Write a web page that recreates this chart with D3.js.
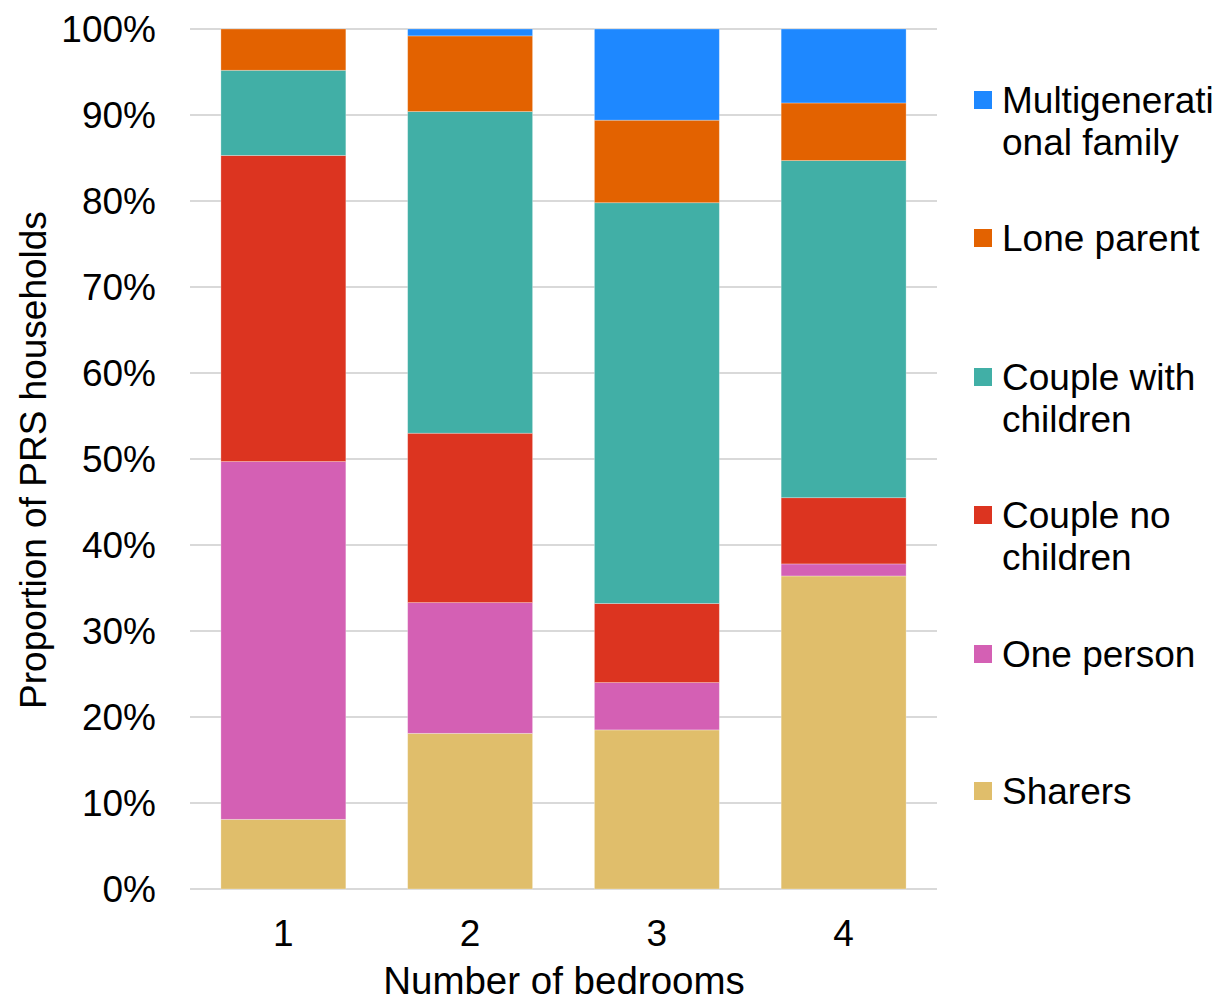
<!DOCTYPE html>
<html>
<head>
<meta charset="utf-8">
<script src="https://cdn.jsdelivr.net/npm/d3@7"></script>
<style>
  html, body { margin: 0; padding: 0; background: #fff; }
  svg { display: block; font-family: "Liberation Sans", Arial, sans-serif; }
</style>
</head>
<body>
<svg id="chart" width="1223" height="1001"></svg>
<script>
// Household type shares (%) of private rented sector homes by number of bedrooms
const bedrooms = ["1", "2", "3", "4"];
const seriesNames = ["Sharers", "One person", "Couple no children", "Couple with children", "Lone parent", "Multigenerational family"];
const sharers          = [8.1, 18.1, 18.5, 36.4];
const onePerson        = [41.6, 15.2, 5.5, 1.4];
const coupleNoChildren = [35.6, 19.7, 9.2, 7.7];
const coupleChildren   = [9.9, 37.4, 46.6, 39.2];
const loneParent       = [4.8, 8.8, 9.6, 6.7];
const multigen         = [0.0, 0.8, 10.6, 8.6];
const seriesColors = ["#E0BE6B", "#D460B4", "#DC3420", "#41AFA6", "#E36200", "#1E88FF"];
// Legend entries, top to bottom, with their text lines
const legendLines = [
  ["Multigenerati", "onal family"],
  ["Lone parent"],
  ["Couple with", "children"],
  ["Couple no", "children"],
  ["One person"],
  ["Sharers"]
];
const yTicks = [0, 10, 20, 30, 40, 50, 60, 70, 80, 90, 100];

const seriesValues = [sharers, onePerson, coupleNoChildren, coupleChildren, loneParent, multigen];
const rows = bedrooms.map((b, i) => {
  const r = { bedrooms: b };
  seriesNames.forEach((s, k) => { r[s] = seriesValues[k][i]; });
  return r;
});

const svg = d3.select("#chart");
const plotLeft = 190, plotRight = 937, plotTop = 29, plotBottom = 889;
const fontSize = 37;

const x = d3.scaleBand().domain(bedrooms).range([plotLeft, plotRight]).paddingInner(0.331).paddingOuter(0.1655);
const y = d3.scaleLinear().domain([0, 100]).range([plotBottom, plotTop]);
const color = d3.scaleOrdinal().domain(seriesNames).range(seriesColors);

// Gridlines
svg.append("g")
  .selectAll("line")
  .data(yTicks)
  .join("line")
  .attr("x1", plotLeft).attr("x2", plotRight)
  .attr("y1", d => y(d)).attr("y2", d => y(d))
  .attr("stroke", "#d9d9d9").attr("stroke-width", 2);

// Y tick labels
svg.append("g")
  .selectAll("text")
  .data(yTicks)
  .join("text")
  .attr("x", 156).attr("y", d => y(d))
  .attr("dy", "0.35em")
  .attr("text-anchor", "end")
  .attr("font-size", fontSize)
  .attr("fill", "#000")
  .text(d => d + "%");

// Stacked bars
const stacked = d3.stack().keys(seriesNames)(rows);
svg.append("g")
  .selectAll("g")
  .data(stacked)
  .join("g")
  .attr("fill", d => color(d.key))
  .selectAll("rect")
  .data(d => d)
  .join("rect")
  .attr("x", d => x(d.data.bedrooms))
  .attr("width", x.bandwidth())
  .attr("y", d => y(d[1]))
  .attr("height", d => Math.max(0, y(d[0]) - y(d[1])))
  .attr("stroke", "#ffffff").attr("stroke-opacity", 0.35).attr("stroke-width", 0.8);

// X tick labels
svg.append("g")
  .selectAll("text")
  .data(bedrooms)
  .join("text")
  .attr("x", d => x(d) + x.bandwidth() / 2)
  .attr("y", 933).attr("dy", "0.35em")
  .attr("text-anchor", "middle")
  .attr("font-size", fontSize)
  .text(d => d);

// Axis titles
svg.append("text")
  .attr("x", 564).attr("y", 994)
  .attr("text-anchor", "middle")
  .attr("font-size", 38.5)
  .text("Number of bedrooms");

svg.append("text")
  .attr("transform", "translate(33,460) rotate(-90)")
  .attr("dy", "0.35em")
  .attr("text-anchor", "middle")
  .attr("font-size", fontSize)
  .text("Proportion of PRS households");

// Legend
const legendY = [100, 238, 377, 515, 654, 791];
const legend = svg.append("g");
const legendOrder = seriesNames.slice().reverse();
legendOrder.forEach((name, i) => {
  const g = legend.append("g").attr("transform", `translate(974,${legendY[i]})`);
  g.append("rect")
    .attr("x", 0).attr("y", -9).attr("width", 18).attr("height", 18)
    .attr("fill", color(name));
  const t = g.append("text").attr("font-size", fontSize);
  legendLines[i].forEach((line, j) => {
    t.append("tspan").attr("x", 28).attr("y", j * 42).attr("dy", "0.35em").text(line);
  });
});
</script>
</body>
</html>
